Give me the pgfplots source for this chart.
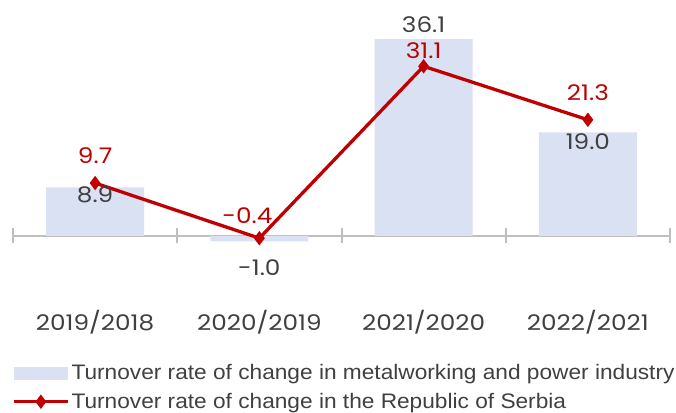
\documentclass[border=0pt]{standalone}
\usepackage{fontspec}
\setmainfont[FakeStretch=1.15]{Poppins}
\newfontfamily\legfont[FakeStretch=1.08]{Liberation Sans}
\usepackage{pgfplots}
\pgfplotsset{compat=1.18}
\definecolor{barblue}{HTML}{D9E1F2}
\definecolor{serred}{HTML}{C00000}
\definecolor{txtgray}{HTML}{404040}
\definecolor{axgray}{HTML}{BFBFBF}

\pgfplotsset{
    barlegend/.style={legend image code/.code={\fill[barblue] (0pt,-6.5pt) rectangle (54pt,6.5pt);}},
    linelegend/.style={legend image code/.code={\draw[mark repeat=2, mark phase=2, ##1]
        plot coordinates {(0pt,0pt) (27pt,0pt) (54pt,0pt)};}},
}

\pgfplotstableread{
x y lbl dy
0 8.9 8.9 -7
1 -1.0 -1.0 -26.5
2 36.1 36.1 14
3 19.0 19.0 -9.5
}\bartab
\pgfplotstableread{
x y lbl dx dy
0 9.7 9.7 0 27
1 -0.4 -0.4 -12 22.7
2 31.1 31.1 0 16
3 21.3 21.3 0 27
}\linetab

\begin{document}
\begin{tikzpicture}
\useasboundingbox (-13pt,-165.1pt) rectangle (663pt,246.9pt);
\begin{axis}[
    scale only axis, width=657pt, height=246.9pt,
    xmin=-0.5, xmax=3.5, ymin=-2, ymax=43.25,
    axis x line=middle, axis y line=none,
    x axis line style={-, axgray, line width=2.2pt},
    xtick={-0.5,0.5,1.5,2.5,3.5}, xticklabels={},
    xtick align=center, major tick length=15pt,
    every tick/.style={axgray, line width=2pt},
    extra x ticks={0,1,2,3},
    extra x tick labels={2019/2018,2020/2019,2021/2020,2022/2021},
    extra x tick style={major tick length=0pt,
        tick label style={yshift=-71pt}},
    xticklabel style={font=\fontsize{21.5}{24}\selectfont, text=txtgray},
    clip=false,
    legend style={at={(-0.0015,-0.468)}, anchor=north west, draw=none, fill=none,
        font=\legfont\fontsize{21}{24}\selectfont, text=txtgray,
        row sep=8pt, inner sep=0pt, cells={anchor=west}},
]
\addplot[ybar, bar width=98pt, fill=barblue, draw=none,
    point meta=explicit symbolic,
    visualization depends on={\thisrow{dy} \as \dy},
    nodes near coords,
    nodes near coords style={anchor=center, yshift=\dy pt, text=txtgray,
        font=\fontsize{21.5}{24}\selectfont},
    barlegend]
    table[x=x, y=y, meta=lbl] {\bartab};
\addlegendentry{Turnover rate of change in metalworking and power industry}
\addplot[serred, line width=3.3pt, mark=diamond*, mark size=4.5pt,
    point meta=explicit symbolic,
    visualization depends on={\thisrow{dy} \as \dy},
    visualization depends on={\thisrow{dx} \as \dx},
    nodes near coords,
    nodes near coords style={anchor=center, yshift=\dy pt, xshift=\dx pt, text=serred,
        font=\fontsize{21.5}{24}\selectfont},
    linelegend]
    table[x=x, y=y, meta=lbl] {\linetab};
\addlegendentry{Turnover rate of change in the Republic of Serbia}
\end{axis}
\end{tikzpicture}
\end{document}
